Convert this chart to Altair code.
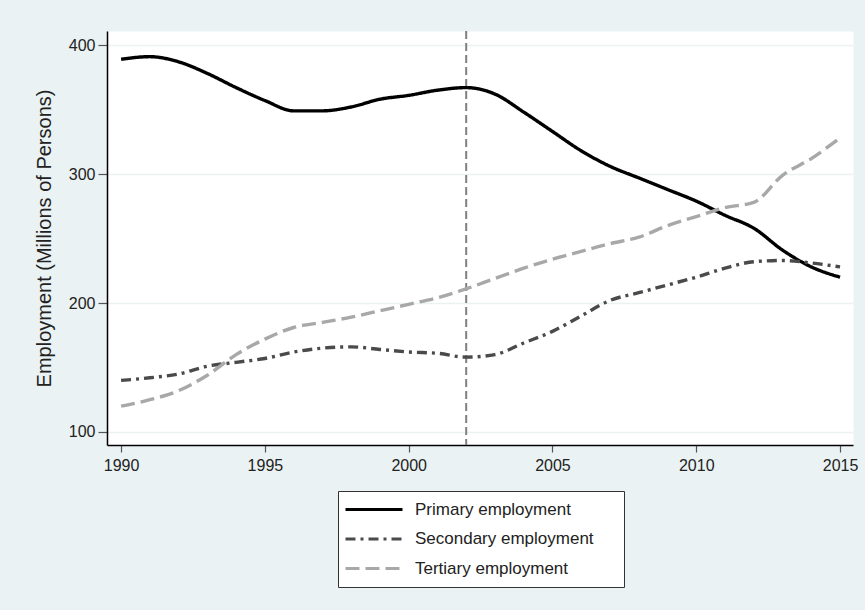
import altair as alt
import pandas as pd

years = list(range(1990, 2016))
primary = [389, 391, 387, 378, 367, 357, 349, 349, 352, 358, 361, 365, 367,
           362, 348, 333, 318, 306, 297, 288, 279, 268, 258, 241, 228, 220]
secondary = [140, 142, 145, 151, 154, 157, 162, 165, 166, 164, 162, 161, 158,
             160, 169, 178, 190, 202, 208, 214, 220, 227, 232, 233, 231, 228]
tertiary = [120, 125, 132, 144, 160, 172, 181, 185, 189, 194, 199, 204, 211,
            219, 227, 234, 240, 246, 251, 260, 267, 274, 278, 299, 312, 328]
series = ["Primary employment", "Secondary employment", "Tertiary employment"]
colors = ["#000000", "#4a4a4a", "#a8a8a8"]
dashes = [[1, 0], [10, 5, 3, 5], [14, 6]]
y_ticks = [100, 200, 300, 400]
x_ticks = [1990, 1995, 2000, 2005, 2010, 2015]
break_year = [2002]

rows = []
for name, vals in zip(series, [primary, secondary, tertiary]):
    for yr, v in zip(years, vals):
        rows.append({"year": yr, "value": v, "series": name})
df = pd.DataFrame(rows)
df_break = pd.DataFrame({"year": break_year})

FONT = "Liberation Sans"
x_scale = alt.Scale(domain=[1989.51, 2015.45], nice=False, zero=False)
y_scale = alt.Scale(domain=[89.9, 410.9], nice=False, zero=False)

x_enc = alt.X("year:Q", scale=x_scale,
              axis=alt.Axis(values=x_ticks, format="d", title=None, grid=False,
                            tickSize=7, labelPadding=5))
pad = "\u00a0" * 5 + "\u200b"
legend = alt.Legend(orient="none", legendX=231, legendY=460, title=None,
                    symbolType="stroke", symbolSize=3249, symbolStrokeWidth=3,
                    clipHeight=25, rowPadding=4.5, labelOffset=11,
                    labelFontSize=17, labelFont=FONT, labelColor="#222222",
                    padding=6, fillColor="white", strokeColor="#333333",
                    labelLimit=400,
                    labelExpr="datum.label + '" + pad + "'")

rule = alt.Chart(df_break).mark_rule(color="#808080", strokeDash=[8, 4],
                                     strokeWidth=2).encode(x=x_enc)

lines = alt.Chart(df).mark_line(strokeWidth=3.4, interpolate="monotone").encode(
    x=x_enc,
    y=alt.Y("value:Q", scale=y_scale,
            axis=alt.Axis(values=y_ticks, title="Employment (Millions of Persons)",
                          grid=True, tickSize=9, labelPadding=3,
                          titleFontSize=20, titlePadding=14)),
    color=alt.Color("series:N", scale=alt.Scale(domain=series, range=colors),
                    legend=legend),
    strokeDash=alt.StrokeDash("series:N", scale=alt.Scale(domain=series, range=dashes),
                              legend=legend),
)

chart = alt.layer(rule, lines).properties(
    width=746, height=414,
    padding={"left": 107, "top": 31, "right": 12, "bottom": 165},
    autosize=alt.AutoSizeParams(type="none"),
    background="#EAF2F3",
).configure_view(
    fill="white", strokeOpacity=0
).configure_axis(
    domainColor="#000000", domainWidth=1.5, tickColor="#555555", tickWidth=1.2,
    labelFont=FONT, labelFontSize=16, labelColor="#222222",
    titleFont=FONT, titleFontWeight="normal", titleColor="#222222",
    gridColor="#EAF2F3", gridWidth=1.5,
)

chart.save("out.html", embed_options={"renderer": "svg", "actions": False})
